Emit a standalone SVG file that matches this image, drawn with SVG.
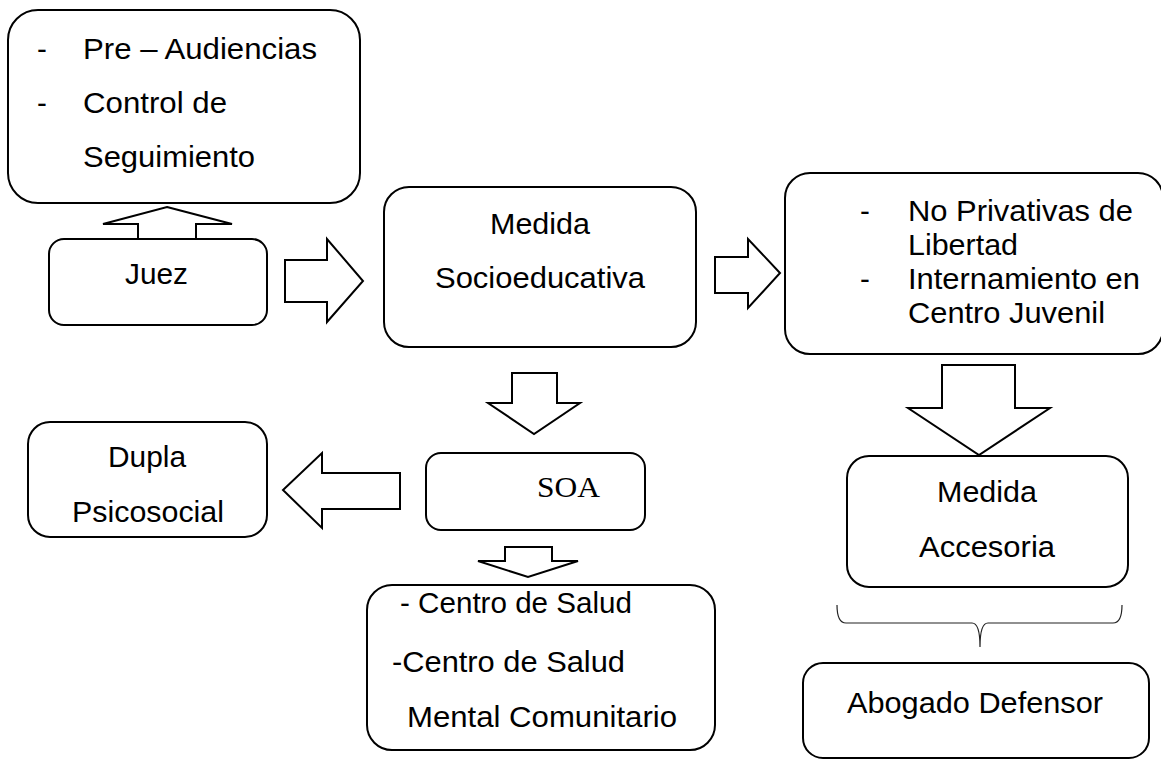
<svg xmlns="http://www.w3.org/2000/svg" width="1161" height="760" viewBox="0 0 1161 760">
<style>
.box{fill:#fff;stroke:#000;stroke-width:2}
.arr{fill:#fff;stroke:#000;stroke-width:2;stroke-linejoin:miter}
.t{font-family:"Liberation Sans",Arial,sans-serif;font-size:29.5px;fill:#000}
.s{font-family:"Liberation Serif","Times New Roman",serif;font-size:29.5px;fill:#000}
.brace{fill:none;stroke:#222;stroke-width:1.2}
</style>
<rect width="1161" height="760" fill="#fff"/>
<g id="connectors">
<polygon class="arr" points="167,207 232,224 196,224 196,239 138,239 138,224 103,224"/>
<polygon class="arr" points="285,260 327,260 327,239 363,281 327,322 327,302 285,302"/>
<polygon class="arr" points="715,257 748,257 748,239 780,273 748,308 748,293 715,293"/>
<polygon class="arr" points="512,373 557,373 557,403 580,403 534,434 488,403 512,403"/>
<polygon class="arr" points="505,547 552,547 552,561 578,561 528,577 478,561 505,561"/>
<polygon class="arr" points="942,365 1015,365 1015,408 1050,408 979,455 908,408 942,408"/>
<polygon class="arr" points="400,473 400,509 322,509 322,528 283,490 322,453 322,473"/>
<path class="brace" d="M837,605 Q837,623 846,623 L972,623 Q980,623 980,647 Q980,623 988,623 L1113,623 Q1122,623 1122,605"/>
</g>
<g id="audiencias">
<rect class="box" x="8" y="10" width="352" height="193" rx="30"/>
<text class="t" x="37" y="59">-</text>
<text class="t" x="83" y="59" textLength="234" lengthAdjust="spacingAndGlyphs">Pre – Audiencias</text>
<text class="t" x="37" y="113">-</text>
<text class="t" x="83" y="113" textLength="144" lengthAdjust="spacingAndGlyphs">Control de</text>
<text class="t" x="83" y="167" textLength="172" lengthAdjust="spacingAndGlyphs">Seguimiento</text>
</g>
<g id="juez">
<rect class="box" x="49" y="239" width="218" height="86" rx="15"/>
<text class="t" x="125" y="284" textLength="63" lengthAdjust="spacingAndGlyphs">Juez</text>
</g>
<g id="socioeducativa">
<rect class="box" x="384" y="187" width="312" height="160" rx="25"/>
<text class="t" x="490" y="234" textLength="100" lengthAdjust="spacingAndGlyphs">Medida</text>
<text class="t" x="435" y="288" textLength="210" lengthAdjust="spacingAndGlyphs">Socioeducativa</text>
</g>
<g id="privativas">
<rect class="box" x="785" y="173" width="378" height="181" rx="25"/>
<text class="t" x="860" y="221">-</text>
<text class="t" x="908" y="221" textLength="225" lengthAdjust="spacingAndGlyphs">No Privativas de</text>
<text class="t" x="908" y="255" textLength="110" lengthAdjust="spacingAndGlyphs">Libertad</text>
<text class="t" x="860" y="289">-</text>
<text class="t" x="908" y="289" textLength="232" lengthAdjust="spacingAndGlyphs">Internamiento en</text>
<text class="t" x="908" y="323" textLength="197" lengthAdjust="spacingAndGlyphs">Centro Juvenil</text>
</g>
<g id="dupla">
<rect class="box" x="28" y="422" width="239" height="115" rx="22"/>
<text class="t" x="108" y="467" textLength="78" lengthAdjust="spacingAndGlyphs">Dupla</text>
<text class="t" x="72" y="522" textLength="152" lengthAdjust="spacingAndGlyphs">Psicosocial</text>
</g>
<g id="soa">
<rect class="box" x="426" y="453" width="219" height="77" rx="15"/>
<text class="s" x="537" y="497" textLength="63" lengthAdjust="spacingAndGlyphs">SOA</text>
</g>
<g id="salud">
<rect class="box" x="367" y="585" width="348" height="165" rx="25"/>
<text class="t" x="400" y="613" textLength="232" lengthAdjust="spacingAndGlyphs">- Centro de Salud</text>
<text class="t" x="392" y="672" textLength="233" lengthAdjust="spacingAndGlyphs">-Centro de Salud</text>
<text class="t" x="407" y="727" textLength="270" lengthAdjust="spacingAndGlyphs">Mental Comunitario</text>
</g>
<g id="accesoria">
<rect class="box" x="847" y="456" width="281" height="131" rx="22"/>
<text class="t" x="937" y="502" textLength="100" lengthAdjust="spacingAndGlyphs">Medida</text>
<text class="t" x="919" y="557" textLength="136" lengthAdjust="spacingAndGlyphs">Accesoria</text>
</g>
<g id="abogado">
<rect class="box" x="803" y="663" width="346" height="95" rx="20"/>
<text class="t" x="847" y="713" textLength="256" lengthAdjust="spacingAndGlyphs">Abogado Defensor</text>
</g>
</svg>
